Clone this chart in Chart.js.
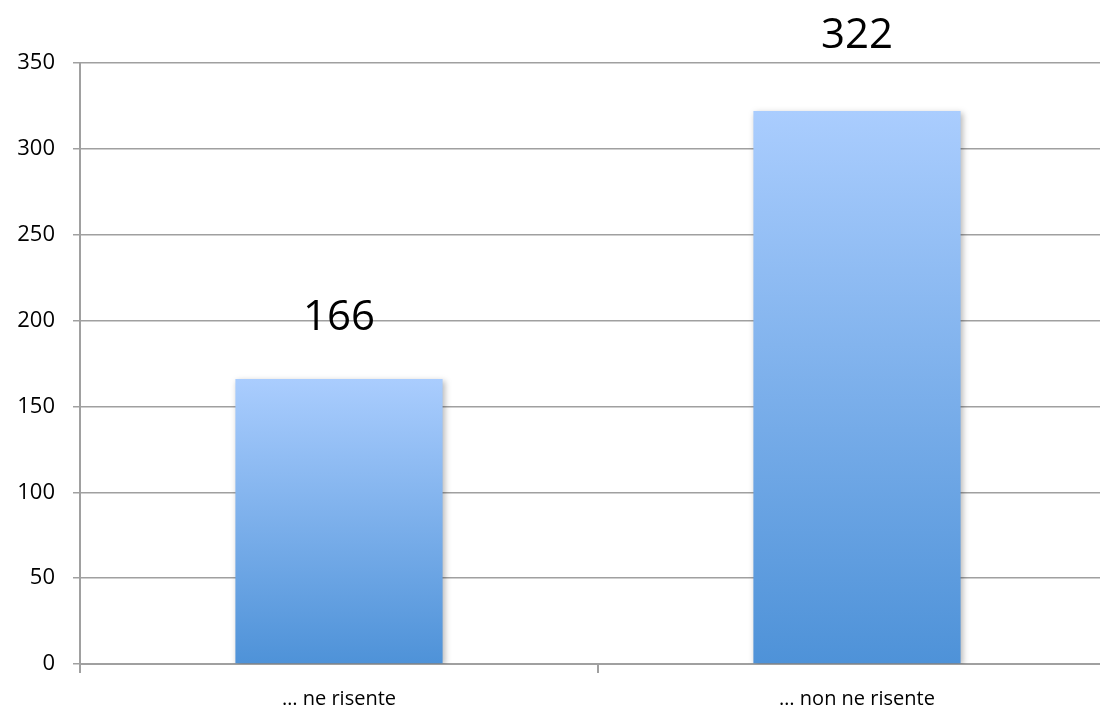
<!DOCTYPE html>
<html>
<head>
<meta charset="utf-8">
<script src="https://cdn.jsdelivr.net/npm/chart.js@4/dist/chart.umd.min.js"></script>
<style>
  html, body { margin: 0; padding: 0; background: #fff; overflow: hidden; }
  #wrap { width: 1116px; height: 714px; }
</style>
</head>
<body>
<div id="wrap"><canvas id="chart"></canvas></div>
<script>
// dati del grafico
const categories = ['… ne risente', '… non ne risente'];
const values = [166, 322];
const yTicks = [0, 50, 100, 150, 200, 250, 300, 350];

const FONT = '"Open Sans", "Liberation Sans", sans-serif';
const GRID = '#a0a0a0';

// gradiente verticale per ogni barra
function barGradient(context) {
  const chart = context.chart;
  const y = chart.scales.y;
  if (!chart.chartArea || !y || context.dataIndex === undefined) return '#7fb0ec';
  const top = y.getPixelForValue(values[context.dataIndex]);
  const bottom = y.getPixelForValue(0);
  if (!isFinite(top) || !isFinite(bottom)) return '#7fb0ec';
  const g = chart.ctx.createLinearGradient(0, top, 0, bottom);
  g.addColorStop(0, '#aacdfe');
  g.addColorStop(1, '#4e92d8');
  return g;
}

// ombra leggera sotto le barre
const shadowPlugin = {
  id: 'barShadow',
  beforeDatasetDraw(chart) {
    const ctx = chart.ctx;
    ctx.save();
    ctx.shadowColor = 'rgba(0,0,0,0.28)';
    ctx.shadowBlur = 6;
    ctx.shadowOffsetX = 2;
    ctx.shadowOffsetY = 2;
  },
  afterDatasetDraw(chart) {
    chart.ctx.restore();
  }
};

// etichette valore sopra le barre
const labelOffsets = [61, 75];
const valueLabels = {
  id: 'valueLabels',
  afterDatasetsDraw(chart) {
    const ctx = chart.ctx;
    const meta = chart.getDatasetMeta(0);
    ctx.save();
    ctx.font = '42px ' + FONT;
    ctx.fillStyle = '#000';
    ctx.textAlign = 'center';
    ctx.textBaseline = 'middle';
    meta.data.forEach((bar, i) => {
      ctx.fillText(String(values[i]), bar.x, bar.y - labelOffsets[i]);
    });
    ctx.restore();
  }
};

new Chart(document.getElementById('chart'), {
  type: 'bar',
  data: {
    labels: categories,
    datasets: [{
      data: values,
      backgroundColor: barGradient,
      borderWidth: 0,
      barPercentage: 0.4,
      categoryPercentage: 1
    }]
  },
  plugins: [shadowPlugin, valueLabels],
  options: {
    responsive: true,
    maintainAspectRatio: false,
    animation: false,
    layout: { padding: { top: 63, right: 0, left: 0, bottom: 0 } },
    plugins: {
      legend: { display: false },
      tooltip: { enabled: false }
    },
    scales: {
      x: {
        offset: true,
        afterFit(scale) { scale.height = 50; },
        grid: {
          offset: true,
          drawOnChartArea: false,
          drawTicks: true,
          tickLength: 9,
          color: GRID,
          lineWidth: 2
        },
        border: { display: true, color: GRID, width: 2 },
        ticks: {
          color: '#000',
          font: { family: FONT, size: 20 },
          padding: 14
        }
      },
      y: {
        min: 0,
        max: 350,
        afterFit(scale) { scale.width = 80; },
        afterBuildTicks(scale) {
          scale.ticks = yTicks.map(v => ({ value: v }));
        },
        grid: {
          color: GRID,
          lineWidth: 1.5,
          tickLength: 7
        },
        border: { display: true, color: GRID, width: 2 },
        ticks: {
          color: '#000',
          font: { family: FONT, size: 22 },
          padding: 18
        }
      }
    }
  }
});
</script>
</body>
</html>
